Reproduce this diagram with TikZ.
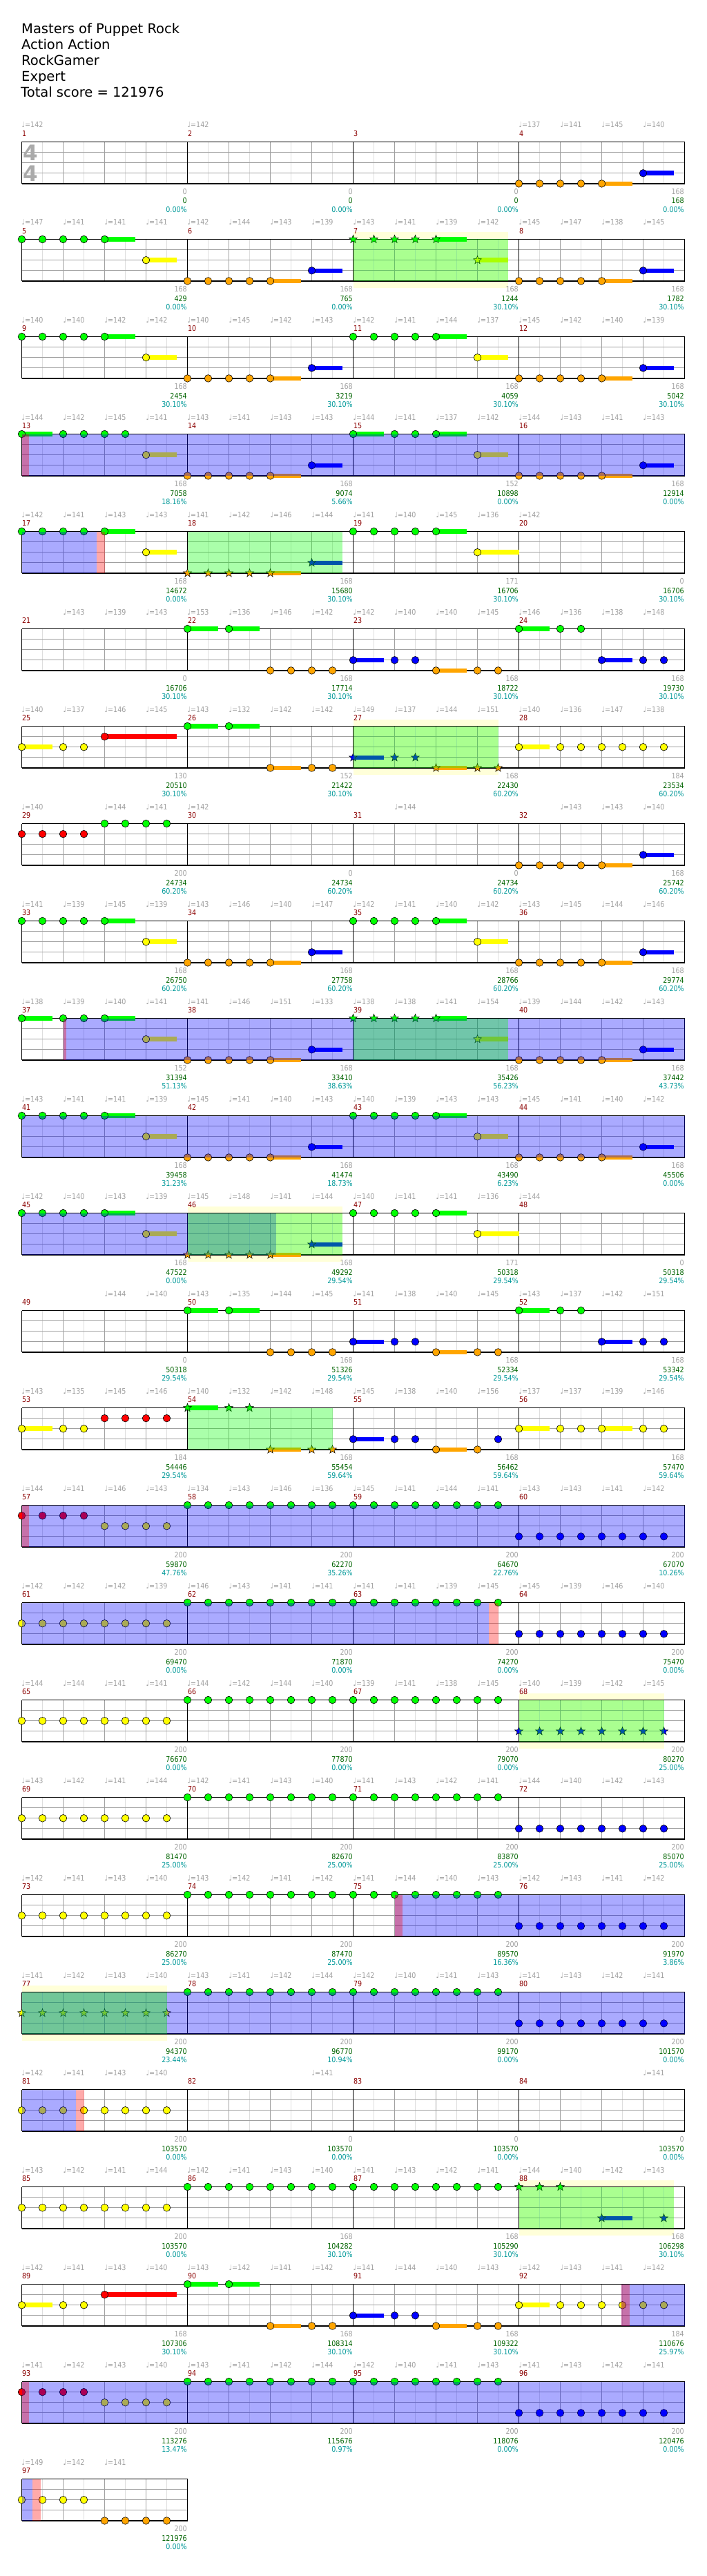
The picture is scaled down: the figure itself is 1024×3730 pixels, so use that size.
\documentclass[tikz,border=0pt]{standalone}
\usepackage{fontspec}
\setmainfont{DejaVu Sans}
\newfontfamily\labfont[FakeStretch=0.87]{DejaVu Sans}
\usetikzlibrary{shapes.geometric}
\definecolor{cG}{RGB}{0,255,0}
\definecolor{cR}{RGB}{255,0,0}
\definecolor{cY}{RGB}{255,255,0}
\definecolor{cB}{RGB}{0,0,255}
\definecolor{cO}{RGB}{255,165,0}
\colorlet{L0}{cG}\colorlet{L1}{cR}\colorlet{L2}{cY}\colorlet{L3}{cB}\colorlet{L4}{cO}
\definecolor{tgray}{RGB}{160,160,160}
\definecolor{lgray}{RGB}{222,222,222}
\definecolor{mgray}{RGB}{160,160,160}
\definecolor{tsgray}{RGB}{170,170,170}
\definecolor{scgreen}{RGB}{0,100,0}
\definecolor{pccyan}{RGB}{0,153,153}
\definecolor{mred}{RGB}{139,0,0}
\definecolor{bandcol}{RGB}{255,255,217}
\newcommand\setM[1]{%
 \pgfmathtruncatemacro\mr{(#1-1)/4}%
 \pgfmathtruncatemacro\mc{#1-1-4*\mr}%
 \pgfmathsetmacro\X{31.5+240*\mc}%
 \pgfmathsetmacro\T{205.5+141*\mr}}
% notes
\newcommand\nt[3]{\setM{#1}\foreach \pp in {#3}{\fill[L#2, draw=black, line width=0.6pt] (\X+30*\pp, \T+15.1*#2) circle[radius=5.3pt];}}
\newcommand\st[3]{\setM{#1}\foreach \pp in {#3}{\node[starnote, fill=L#2] at (\X+30*\pp, \T+15.1*#2) {};}}
\newcommand\tl[4]{\setM{#1}\fill[L#2] (\X+30*#3, \T+15.1*#2-3.3) rectangle ++(#4, 6.6);}
\newcommand\ov[4]{\setM{#2}\fill[#1, opacity=0.333] (#3,\T) rectangle (#4,\T+60.4);}
\newcommand\bd[3]{\setM{#1}\fill[bandcol] (#2,\T-10) rectangle (#3,\T+70.4);}
% patterns
\newcommand\pA[2][44.5]{\tl{#2}{0}{4}{44.5}\tl{#2}{2}{6}{#1}\nt{#2}{0}{0,...,4}\nt{#2}{2}{6}}
\newcommand\pB[1]{\tl{#1}{4}{4}{44.5}\tl{#1}{3}{6}{44.5}\nt{#1}{4}{0,...,4}\nt{#1}{3}{6}}
\newcommand\pAs[1]{\tl{#1}{0}{4}{44.5}\tl{#1}{2}{6}{44.5}\st{#1}{0}{0,...,4}\st{#1}{2}{6}}
\newcommand\pBs[1]{\tl{#1}{4}{4}{44.5}\tl{#1}{3}{6}{44.5}\st{#1}{4}{0,...,4}\st{#1}{3}{6}}
\newcommand\pC[1]{\tl{#1}{0}{0}{44.5}\tl{#1}{0}{2}{44.5}\nt{#1}{0}{0,2}\nt{#1}{4}{4,5,6,7}}
\newcommand\pD[1]{\tl{#1}{3}{0}{44.5}\tl{#1}{4}{4}{44.5}\nt{#1}{3}{0,2,3}\nt{#1}{4}{4,6,7}}
\newcommand\pE[1]{\tl{#1}{0}{0}{44.5}\tl{#1}{3}{4}{44.5}\nt{#1}{0}{0,2,3}\nt{#1}{3}{4,6,7}}
\newcommand\pYR[1]{\tl{#1}{2}{0}{44.5}\tl{#1}{1}{4}{104}\nt{#1}{2}{0,2,3}\nt{#1}{1}{4}}
\newcommand\pGO[1]{\tl{#1}{0}{0}{44.5}\tl{#1}{0}{2}{44.5}\tl{#1}{4}{4}{44.5}\nt{#1}{0}{0,2}\nt{#1}{4}{4,6,7}}
\newcommand\pYY[1]{\tl{#1}{2}{0}{44.5}\nt{#1}{2}{0,2,3,4,5,6,7}}
% grid row
\newcommand\grow[2]{%
 \pgfmathsetmacro\T{205.5+141*#1}%
 \pgfmathsetmacro\XE{31.5+240*#2}%
 \pgfmathtruncatemacro\nb{4*#2-1}%
 \foreach \i in {0,...,\nb} {\draw[lgray, line width=0.8pt] (61.5+60*\i,\T) -- ++(0,60.4);}
 \foreach \i in {1,...,\nb} {\draw[mgray, line width=0.9pt] (31.5+60*\i,\T) -- ++(0,60.4);}
 \foreach \j in {1,2,3} {\draw[mgray, line width=0.9pt] (31.5,\T+15.1*\j) -- (\XE,\T+15.1*\j);}
 \foreach \i in {0,...,#2} {\draw[black, line width=0.9pt] (31.5+240*\i,\T) -- ++(0,60.4);}
 \draw[black, line width=1.3pt] (31.5,\T) -- (\XE,\T) (31.5,\T+60.4) -- (\XE,\T+60.4);}
% texts
\newcommand\tempo[2]{\if\relax\detokenize{#2}\relax\else\node[ltp] at (\X+60*#1,\T-20.5) {♩=#2};\fi}
\newcommand\meas[8]{\setM{#1}%
 \node[mnum] at (\X+0.3,\T-7.8) {#1};%
 \tempo{0}{#2}\tempo{1}{#3}\tempo{2}{#4}\tempo{3}{#5}%
 \node[lgr] at (\X+239.5,\T+76.1) {#6};%
 \node[lsc] at (\X+239.5,\T+89.5) {#7};%
 \node[lpc] at (\X+239.5,\T+102.2) {#8};}
\begin{document}
\begin{tikzpicture}[x=1pt,y=-1pt,
 starnote/.style={star, star points=5, star point ratio=2.4, minimum size=12.5pt, inner sep=0pt, draw=black, line width=0.5pt},
 lab/.style={inner sep=0pt, font=\labfont\fontsize{11}{11}\selectfont},
 mnum/.style={lab, anchor=base west, text=mred},
 ltp/.style={lab, anchor=base west, text=tgray},
 lgr/.style={lab, anchor=base east, text=tgray},
 lsc/.style={lab, anchor=base east, text=scgreen},
 lpc/.style={lab, anchor=base east, text=pccyan},
 ttl/.style={anchor=base west, inner sep=0pt, font=\fontsize{19.5}{19.5}\selectfont}]
\fill[white] (0,0) rectangle (1024,3730);
\useasboundingbox (0,0) rectangle (1024,3730);
\node[ttl] (t1) at (31,49) {Masters of Puppet Rock};
\node[ttl] (t2) at (31,72) {Action Action};
\node[ttl] (t3) at (31,95) {RockGamer};
\node[ttl] (t4) at (31,118) {Expert};
\node[ttl] (t5) at (30,141) {Total score = 121976};
% bands
\bd{7}{511.5}{736}
\bd{27}{511.5}{721.5}
\bd{46}{271.5}{496}
\bd{68}{751.5}{961.5}
\bd{77}{31.5}{241.5}
\bd{88}{751.5}{976}
% grids
\foreach \r in {0,...,23}{\grow{\r}{4}}
\grow{24}{1}
\node[anchor=base, inner sep=0pt, text=tsgray, font=\bfseries\fontsize{31}{31}\selectfont] (ts1) at (44.5,232.3) {4};
\node[anchor=base, inner sep=0pt, text=tsgray, font=\bfseries\fontsize{31}{31}\selectfont] (ts2) at (44.5,262.8) {4};
% notes
\pB{4}
\pA{5}\pB{6}\pAs{7}\pB{8}
\pA{9}\pB{10}\pA{11}\pB{12}
\tl{13}{0}{0}{44.5}\tl{13}{2}{6}{44.5}\nt{13}{0}{0,2,3,4,5}\nt{13}{2}{6}
\pB{14}
\tl{15}{0}{0}{44.5}\tl{15}{0}{4}{44.5}\tl{15}{2}{6}{44.5}\nt{15}{0}{0,2,3,4}\nt{15}{2}{6}
\pB{16}
\pA{17}\pBs{18}\pA[60]{19}
\pC{22}\pD{23}\pE{24}
\pYR{25}\pGO{26}
\tl{27}{3}{0}{44.5}\tl{27}{4}{4}{44.5}\st{27}{3}{0,2,3}\st{27}{4}{4,6,7}
\pYY{28}
\nt{29}{1}{0,1,2,3}\nt{29}{0}{4,5,6,7}
\pB{32}
\pA{33}\pB{34}\pA{35}\pB{36}
\tl{37}{0}{0}{44.5}\tl{37}{0}{4}{44.5}\tl{37}{2}{6}{44.5}\nt{37}{0}{0,2,3,4}\nt{37}{2}{6}
\pB{38}\pAs{39}\pB{40}
\pA{41}\pB{42}\pA{43}\pB{44}
\pA{45}\pBs{46}\pA[60]{47}
\pC{50}\pD{51}\pE{52}
\tl{53}{2}{0}{44.5}\nt{53}{2}{0,2,3}\nt{53}{1}{4,5,6,7}
\tl{54}{0}{0}{44.5}\tl{54}{4}{4}{44.5}\st{54}{0}{0,2,3}\st{54}{4}{4,6,7}
\tl{55}{3}{0}{44.5}\tl{55}{4}{4}{44.5}\nt{55}{3}{0,2,3,7}\nt{55}{4}{4,6}
\tl{56}{2}{0}{44.5}\tl{56}{2}{4}{44.5}\nt{56}{2}{0,2,3,4,6,7}
\nt{57}{1}{0,1,2,3}\nt{57}{2}{4,5,6,7}
\nt{58}{0}{0,...,7}\nt{59}{0}{0,...,7}\nt{60}{3}{0,...,7}
\nt{61}{2}{0,...,7}\nt{62}{0}{0,...,7}\nt{63}{0}{0,...,7}\nt{64}{3}{0,...,7}
\nt{65}{2}{0,...,7}\nt{66}{0}{0,...,7}\nt{67}{0}{0,...,7}\st{68}{3}{0,...,7}
\nt{69}{2}{0,...,7}\nt{70}{0}{0,...,7}\nt{71}{0}{0,...,7}\nt{72}{3}{0,...,7}
\nt{73}{2}{0,...,7}\nt{74}{0}{0,...,7}\nt{75}{0}{0,...,7}\nt{76}{3}{0,...,7}
\st{77}{2}{0,...,7}\nt{78}{0}{0,...,7}\nt{79}{0}{0,...,7}\nt{80}{3}{0,...,7}
\nt{81}{2}{0,...,7}
\nt{85}{2}{0,...,7}\nt{86}{0}{0,...,7}\nt{87}{0}{0,...,7}
\tl{88}{3}{4}{44.5}\st{88}{0}{0,1,2}\st{88}{3}{4,7}
\pYR{89}\pGO{90}\pD{91}\pYY{92}
\nt{93}{1}{0,1,2,3}\nt{93}{2}{4,5,6,7}
\nt{94}{0}{0,...,7}\nt{95}{0}{0,...,7}\nt{96}{3}{0,...,7}
\nt{97}{2}{0,1,2,3}\nt{97}{4}{4,5,6,7}
% overlays
\ov{cG}{7}{511.5}{736}
\ov{cB}{13}{31.5}{991.5}\ov{cR}{13}{31.5}{41.5}
\ov{cB}{17}{31.5}{139.7}\ov{cR}{17}{139.7}{151.5}\ov{cG}{18}{271.5}{496}
\ov{cG}{27}{511.5}{721.5}
\ov{cB}{37}{91.5}{991.5}\ov{cR}{37}{91.5}{95.5}\ov{cG}{39}{511.5}{736}
\ov{cB}{41}{31.5}{991.5}
\ov{cB}{45}{31.5}{399.7}\ov{cG}{46}{271.5}{496}
\ov{cG}{54}{271.5}{481.5}
\ov{cB}{57}{31.5}{991.5}\ov{cR}{57}{31.5}{41.8}
\ov{cB}{61}{31.5}{708}\ov{cR}{61}{708}{721.5}
\ov{cG}{68}{751.5}{961.5}
\ov{cB}{75}{571.5}{991.5}\ov{cR}{75}{571.5}{583}
\ov{cB}{77}{31.5}{991.5}\ov{cG}{77}{31.5}{241.5}
\ov{cB}{81}{31.5}{109.7}\ov{cR}{81}{109.7}{121.5}
\ov{cG}{88}{751.5}{976}
\ov{cB}{92}{900}{991.5}\ov{cR}{92}{900}{912}
\ov{cB}{93}{31.5}{991.5}\ov{cR}{93}{31.5}{41.8}
\ov{cB}{97}{31.5}{47}\ov{cR}{97}{47}{59}
% texts
\meas{1}{142}{}{}{}{0}{0}{0.00\%}
\meas{2}{142}{}{}{}{0}{0}{0.00\%}
\meas{3}{}{}{}{}{0}{0}{0.00\%}
\meas{4}{137}{141}{145}{140}{168}{168}{0.00\%}
\meas{5}{147}{141}{141}{141}{168}{429}{0.00\%}
\meas{6}{142}{144}{143}{139}{168}{765}{0.00\%}
\meas{7}{143}{141}{139}{142}{168}{1244}{30.10\%}
\meas{8}{145}{147}{138}{145}{168}{1782}{30.10\%}
\meas{9}{140}{140}{142}{142}{168}{2454}{30.10\%}
\meas{10}{140}{145}{142}{143}{168}{3219}{30.10\%}
\meas{11}{142}{141}{144}{137}{168}{4059}{30.10\%}
\meas{12}{145}{142}{140}{139}{168}{5042}{30.10\%}
\meas{13}{144}{142}{145}{141}{168}{7058}{18.16\%}
\meas{14}{143}{141}{143}{143}{168}{9074}{5.66\%}
\meas{15}{144}{141}{137}{142}{152}{10898}{0.00\%}
\meas{16}{144}{143}{141}{143}{168}{12914}{0.00\%}
\meas{17}{142}{141}{143}{143}{168}{14672}{0.00\%}
\meas{18}{141}{142}{146}{144}{168}{15680}{30.10\%}
\meas{19}{141}{140}{145}{136}{171}{16706}{30.10\%}
\meas{20}{142}{}{}{}{0}{16706}{30.10\%}
\meas{21}{}{143}{139}{143}{0}{16706}{30.10\%}
\meas{22}{153}{136}{146}{142}{168}{17714}{30.10\%}
\meas{23}{142}{140}{140}{145}{168}{18722}{30.10\%}
\meas{24}{146}{136}{138}{148}{168}{19730}{30.10\%}
\meas{25}{140}{137}{146}{145}{130}{20510}{30.10\%}
\meas{26}{143}{132}{142}{142}{152}{21422}{30.10\%}
\meas{27}{149}{137}{144}{151}{168}{22430}{60.20\%}
\meas{28}{140}{136}{147}{138}{184}{23534}{60.20\%}
\meas{29}{140}{}{144}{141}{200}{24734}{60.20\%}
\meas{30}{142}{}{}{}{0}{24734}{60.20\%}
\meas{31}{}{144}{}{}{0}{24734}{60.20\%}
\meas{32}{}{143}{143}{140}{168}{25742}{60.20\%}
\meas{33}{141}{139}{145}{139}{168}{26750}{60.20\%}
\meas{34}{143}{146}{140}{147}{168}{27758}{60.20\%}
\meas{35}{142}{141}{140}{142}{168}{28766}{60.20\%}
\meas{36}{143}{145}{144}{146}{168}{29774}{60.20\%}
\meas{37}{138}{139}{140}{141}{152}{31394}{51.13\%}
\meas{38}{141}{146}{151}{133}{168}{33410}{38.63\%}
\meas{39}{138}{138}{141}{154}{168}{35426}{56.23\%}
\meas{40}{139}{144}{142}{143}{168}{37442}{43.73\%}
\meas{41}{143}{141}{141}{139}{168}{39458}{31.23\%}
\meas{42}{145}{141}{140}{143}{168}{41474}{18.73\%}
\meas{43}{140}{139}{143}{143}{168}{43490}{6.23\%}
\meas{44}{145}{141}{140}{142}{168}{45506}{0.00\%}
\meas{45}{142}{140}{143}{139}{168}{47522}{0.00\%}
\meas{46}{145}{148}{141}{144}{168}{49292}{29.54\%}
\meas{47}{140}{141}{141}{136}{171}{50318}{29.54\%}
\meas{48}{144}{}{}{}{0}{50318}{29.54\%}
\meas{49}{}{}{144}{140}{0}{50318}{29.54\%}
\meas{50}{143}{135}{144}{145}{168}{51326}{29.54\%}
\meas{51}{141}{138}{140}{145}{168}{52334}{29.54\%}
\meas{52}{143}{137}{142}{151}{168}{53342}{29.54\%}
\meas{53}{143}{135}{145}{146}{184}{54446}{29.54\%}
\meas{54}{140}{132}{142}{148}{168}{55454}{59.64\%}
\meas{55}{145}{138}{140}{156}{168}{56462}{59.64\%}
\meas{56}{137}{137}{139}{146}{168}{57470}{59.64\%}
\meas{57}{144}{141}{146}{143}{200}{59870}{47.76\%}
\meas{58}{134}{143}{146}{136}{200}{62270}{35.26\%}
\meas{59}{145}{141}{144}{141}{200}{64670}{22.76\%}
\meas{60}{143}{143}{141}{142}{200}{67070}{10.26\%}
\meas{61}{142}{142}{142}{139}{200}{69470}{0.00\%}
\meas{62}{146}{143}{141}{141}{200}{71870}{0.00\%}
\meas{63}{141}{141}{139}{145}{200}{74270}{0.00\%}
\meas{64}{145}{139}{146}{140}{200}{75470}{0.00\%}
\meas{65}{144}{144}{141}{141}{200}{76670}{0.00\%}
\meas{66}{144}{142}{144}{140}{200}{77870}{0.00\%}
\meas{67}{139}{141}{138}{145}{200}{79070}{0.00\%}
\meas{68}{140}{139}{142}{145}{200}{80270}{25.00\%}
\meas{69}{143}{142}{141}{144}{200}{81470}{25.00\%}
\meas{70}{142}{141}{143}{140}{200}{82670}{25.00\%}
\meas{71}{141}{143}{142}{141}{200}{83870}{25.00\%}
\meas{72}{144}{140}{142}{143}{200}{85070}{25.00\%}
\meas{73}{142}{141}{143}{140}{200}{86270}{25.00\%}
\meas{74}{143}{142}{141}{142}{200}{87470}{25.00\%}
\meas{75}{141}{144}{140}{143}{200}{89570}{16.36\%}
\meas{76}{142}{143}{141}{142}{200}{91970}{3.86\%}
\meas{77}{141}{142}{143}{140}{200}{94370}{23.44\%}
\meas{78}{143}{141}{142}{144}{200}{96770}{10.94\%}
\meas{79}{142}{140}{141}{143}{200}{99170}{0.00\%}
\meas{80}{141}{143}{142}{141}{200}{101570}{0.00\%}
\meas{81}{142}{141}{143}{140}{200}{103570}{0.00\%}
\meas{82}{}{}{}{141}{0}{103570}{0.00\%}
\meas{83}{}{}{}{}{0}{103570}{0.00\%}
\meas{84}{}{}{}{141}{0}{103570}{0.00\%}
\meas{85}{143}{142}{141}{144}{200}{103570}{0.00\%}
\meas{86}{142}{141}{143}{140}{168}{104282}{30.10\%}
\meas{87}{141}{143}{142}{141}{168}{105290}{30.10\%}
\meas{88}{144}{140}{142}{143}{168}{106298}{30.10\%}
\meas{89}{142}{141}{143}{140}{168}{107306}{30.10\%}
\meas{90}{143}{142}{141}{142}{168}{108314}{30.10\%}
\meas{91}{141}{144}{140}{143}{168}{109322}{30.10\%}
\meas{92}{142}{143}{141}{142}{184}{110676}{25.97\%}
\meas{93}{141}{142}{143}{140}{200}{113276}{13.47\%}
\meas{94}{143}{141}{142}{144}{200}{115676}{0.97\%}
\meas{95}{142}{140}{141}{143}{200}{118076}{0.00\%}
\meas{96}{141}{143}{142}{141}{200}{120476}{0.00\%}
\meas{97}{149}{142}{141}{}{200}{121976}{0.00\%}
\end{tikzpicture}
\end{document}
